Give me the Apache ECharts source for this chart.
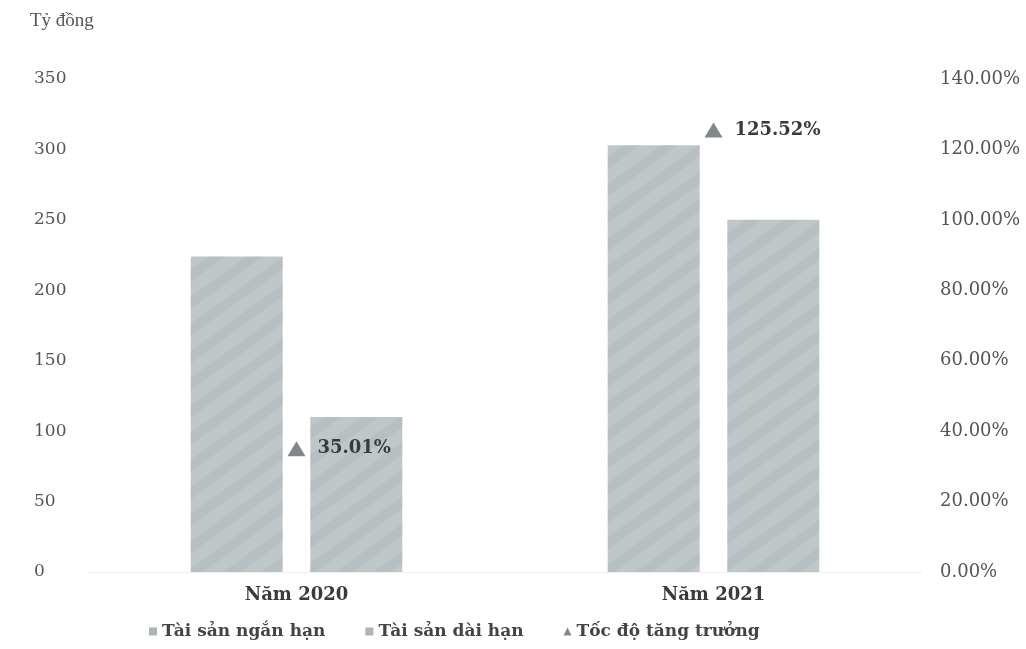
<!DOCTYPE html>
<html>
<head>
<meta charset="utf-8">
<script src="https://cdn.jsdelivr.net/npm/echarts@6/dist/echarts.min.js"></script>
<style>html,body{margin:0;padding:0;background:#fff}#c{width:1026px;height:649px}</style>
</head>
<body>
<div id="c"></div>
<script>
const categories = ['Năm 2020', 'Năm 2021'];
const shortTerm = [224, 303];
const longTerm = [110, 250];
const growth = [35.01, 125.52];
const leftTicks = { min: 0, max: 350, interval: 50 };
const rightTicks = { min: 0, max: 140, interval: 20 };

const font = 'DejaVu Serif';
const chart = echarts.init(document.getElementById('c'));
const barColor = '#c0c7c9';
const decal = { symbol: 'rect', dashArrayX: [1, 0], dashArrayY: [10, 12], rotation: -Math.PI / 5, color: 'rgba(150,160,164,0.2)' };
chart.setOption({
  backgroundColor: '#fff',
  animation: false,
  textStyle: { fontFamily: font },
  graphic: [{
    type: 'text', left: 30, top: 12,
    style: { text: 'Tỷ đồng', font: '19px "Liberation Serif"', fill: '#555' }
  }],
  grid: { left: 88, right: 104, top: 79, bottom: 77 },
  legend: {
    bottom: 4, left: 144, itemGap: 40, itemWidth: 8, itemHeight: 8,
    textStyle: { fontFamily: font, fontSize: 17, color: '#444', fontWeight: 'bold' },
    data: [
      { name: 'Tài sản ngắn hạn', icon: 'rect', itemStyle: { color: '#b3babc' } },
      { name: 'Tài sản dài hạn', icon: 'rect', itemStyle: { color: '#b3babc' } },
      { name: 'Tốc độ tăng trưởng', icon: 'triangle', itemStyle: { color: '#7f898c' } }
    ]
  },
  xAxis: {
    type: 'category', data: categories,
    axisLine: { show: true, lineStyle: { color: '#f0f0f0' } },
    axisTick: { show: false },
    axisLabel: { fontFamily: font, fontSize: 18, fontWeight: 'bold', color: '#3a3a3a', margin: 14 }
  },
  yAxis: [{
    type: 'value', min: leftTicks.min, max: leftTicks.max, interval: leftTicks.interval,
    splitLine: { show: false }, axisLine: { show: false }, axisTick: { show: false },
    axisLabel: { fontFamily: font, fontSize: 17, color: '#555', align: 'left', margin: 54 }
  }, {
    type: 'value', min: rightTicks.min, max: rightTicks.max, interval: rightTicks.interval,
    splitLine: { show: false }, axisLine: { show: false }, axisTick: { show: false },
    axisLabel: { fontFamily: font, fontSize: 18, color: '#555', align: 'left', margin: 18,
      formatter: v => v.toFixed(2) + '%' }
  }],
  series: [{
    name: 'Tài sản ngắn hạn', type: 'bar', data: shortTerm, barWidth: 92, barGap: '30%',
    itemStyle: { color: barColor, decal: decal }
  }, {
    name: 'Tài sản dài hạn', type: 'bar', data: longTerm, barWidth: 92,
    itemStyle: { color: barColor, decal: decal }
  }, {
    name: 'Tốc độ tăng trưởng', type: 'line', yAxisIndex: 1, data: growth,
    symbol: 'triangle', symbolSize: [18, 15],
    lineStyle: { width: 0, opacity: 0 },
    itemStyle: { color: '#7f898c' },
    label: { show: true, position: 'right', distance: 12, fontFamily: font, fontSize: 18,
      fontWeight: 'bold', color: '#3a3a3a', formatter: p => p.value.toFixed(2) + '%' }
  }]
});
</script>
</body>
</html>
